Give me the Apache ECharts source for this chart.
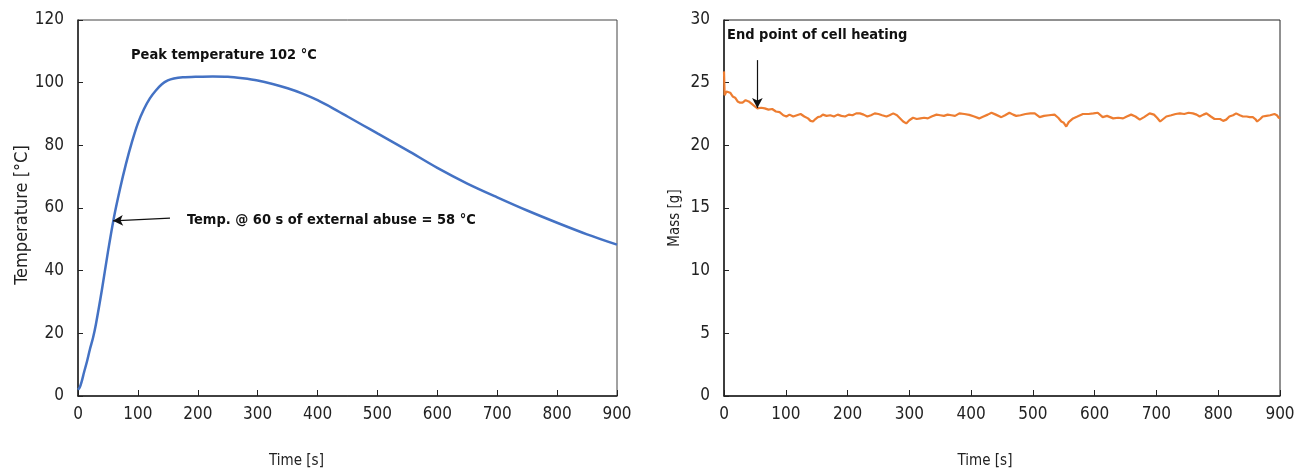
<!DOCTYPE html>
<html>
<head>
<meta charset="utf-8">
<script src="https://cdn.jsdelivr.net/npm/echarts@6/dist/echarts.min.js"></script>
<style>
  html,body{margin:0;padding:0;background:#fff;}
  #chart{width:1294px;height:468px;}
</style>
</head>
<body>
<div id="chart"></div>
<script>
// 温度曲线 (左图)
const tempTime  = [0, 3, 6, 10, 15, 20, 25, 30, 40, 50, 60, 70, 80, 90, 100, 110, 120, 130, 140, 150, 160, 175, 200, 225, 250, 275, 300, 325, 350, 375, 400, 425, 450, 475, 500, 550, 600, 650, 700, 750, 800, 850, 900];
const tempValue = [2, 2.8, 4.5, 7.5, 11, 15, 18.5, 23, 34, 46, 57, 66, 74, 81, 87, 91.5, 95, 97.5, 99.5, 100.7, 101.3, 101.7, 101.9, 102, 101.9, 101.4, 100.7, 99.6, 98.2, 96.5, 94.4, 91.9, 89.2, 86.5, 83.8, 78.4, 72.8, 67.8, 63.4, 59.2, 55.3, 51.6, 48.3];

// 质量曲线 (右图)
const massTime  = [0, 1, 4, 7, 10, 14, 18, 22, 26, 30, 35, 40, 45, 50, 54, 60, 66, 72, 78, 84, 90, 96, 101, 106, 112, 118, 124, 130, 136, 140, 144, 148, 152, 156, 160, 166, 172, 178, 184, 190, 196, 202, 208, 214, 220, 226, 232, 238, 244, 250, 256, 263, 268, 274, 280, 286, 290, 295, 300, 306, 312, 318, 324, 330, 336, 344, 350, 356, 362, 368, 374, 381, 389, 397, 405, 413, 420, 427, 433, 440, 449, 455, 462, 468, 473, 480, 488, 496, 503, 511, 518, 526, 535, 541, 546, 550, 554, 558, 565, 572, 581, 590, 598, 605, 613, 620, 630, 638, 646, 652, 659, 666, 673, 680, 689, 696, 701, 706, 711, 716, 724, 731, 738, 745, 752, 759, 765, 770, 776, 781, 788, 794, 797, 803, 808, 813, 818, 824, 829, 835, 840, 846, 851, 856, 860, 863, 868, 872, 878, 884, 891, 895, 898, 900];
const massValue = [25.9, 24.0, 24.3, 24.4, 24.2, 23.9, 23.8, 23.5, 23.4, 23.4, 23.6, 23.5, 23.3, 23.1, 22.95, 23.0, 22.95, 22.85, 22.9, 22.7, 22.65, 22.4, 22.3, 22.45, 22.3, 22.4, 22.5, 22.3, 22.15, 21.95, 21.9, 22.1, 22.25, 22.3, 22.45, 22.35, 22.4, 22.3, 22.45, 22.35, 22.3, 22.45, 22.4, 22.55, 22.55, 22.45, 22.3, 22.4, 22.55, 22.5, 22.4, 22.3, 22.4, 22.55, 22.4, 22.1, 21.9, 21.75, 22.0, 22.2, 22.1, 22.15, 22.2, 22.15, 22.3, 22.45, 22.4, 22.35, 22.45, 22.4, 22.35, 22.55, 22.5, 22.43, 22.3, 22.15, 22.3, 22.45, 22.6, 22.45, 22.25, 22.4, 22.6, 22.45, 22.35, 22.4, 22.5, 22.55, 22.55, 22.25, 22.35, 22.4, 22.45, 22.2, 21.9, 21.8, 21.5, 21.85, 22.15, 22.3, 22.5, 22.5, 22.55, 22.6, 22.25, 22.35, 22.15, 22.2, 22.15, 22.3, 22.45, 22.3, 22.05, 22.25, 22.55, 22.45, 22.2, 21.9, 22.1, 22.3, 22.4, 22.5, 22.55, 22.5, 22.6, 22.55, 22.45, 22.3, 22.45, 22.55, 22.3, 22.1, 22.0, 22.1, 21.95, 22.05, 22.3, 22.4, 22.55, 22.4, 22.3, 22.3, 22.25, 22.25, 22.1, 21.9, 22.1, 22.3, 22.35, 22.4, 22.5, 22.4, 22.2, 22.15];

const xTicks = [0, 100, 200, 300, 400, 500, 600, 700, 800, 900];

let font = "'DejaVu Sans Condensed', 'Liberation Sans Narrow', sans-serif";

function pairs(xs, ys){
    let out = [];
    for(let i=0;i<xs.length;i++){ out.push([xs[i], ys[i]]); }
    return out;
}

function xAxisCfg(idx, shift){
    return {
        gridIndex: idx,
        type: 'value',
        min: xTicks[0],
        max: xTicks[xTicks.length-1],
        interval: 100,
        name: 'Time [s]',
        nameLocation: 'middle',
        nameGap: 58,
        nameTextStyle: {fontFamily: font, fontSize: 15, color: '#222', padding: [0, shift, 0, 0]},
        axisLine: {lineStyle: {color: '#222', width: 1.5}},
        axisTick: {inside: true, length: 6, lineStyle: {color: '#222'}},
        axisLabel: {fontFamily: font, fontSize: 17, color: '#222', margin: 10},
        splitLine: {show: false}
    };
}

function yAxisCfg(idx, name, max, interval, size, gap, shift){
    return {
        gridIndex: idx,
        type: 'value',
        min: 0,
        max: max,
        interval: interval,
        name: name,
        nameLocation: 'middle',
        nameGap: gap,
        nameTextStyle: {fontFamily: font, fontSize: size, color: '#222', padding: [0, shift, 0, 0]},
        axisLine: {show: true, lineStyle: {color: '#222', width: 1.5}},
        axisTick: {show: true, inside: true, length: 5, lineStyle: {color: '#222'}},
        axisLabel: {fontFamily: font, fontSize: 17, color: '#222', margin: 14},
        splitLine: {show: false}
    };
}

let myChart = echarts.init(document.getElementById('chart'));
myChart.setOption({
    animation: false,
    grid: [
        {left: 78, top: 20, width: 539, height: 376, outerBoundsMode: 'none', containLabel: false, show: true, borderColor: '#444', borderWidth: 1},
        {left: 724, top: 20, width: 556, height: 376, outerBoundsMode: 'none', containLabel: false, show: true, borderColor: '#222', borderWidth: 1}
    ],
    xAxis: [xAxisCfg(0, 102), xAxisCfg(1, 34)],
    yAxis: [
        yAxisCfg(0, 'Temperature [°C]', 120, 20, 18, 47, 14),
        yAxisCfg(1, 'Mass [g]', 30, 5, 15, 41, 20)
    ],
    graphic: [
        {type: 'text', left: 131, top: 48, style: {text: 'Peak temperature 102 °C', font: 'bold 14.5px ' + font, fill: '#111'}},
        {type: 'text', left: 187, top: 213, style: {text: 'Temp. @ 60 s of external abuse = 58 °C', font: 'bold 14.5px ' + font, fill: '#111'}},
        {type: 'text', left: 727, top: 28, style: {text: 'End point of cell heating', font: 'bold 14.5px ' + font, fill: '#111'}}
    ],
    series: [
        {
            type: 'line',
            xAxisIndex: 0, yAxisIndex: 0,
            data: pairs(tempTime, tempValue),
            smooth: 0.3,
            showSymbol: false,
            clip: false,
            lineStyle: {color: '#4472C4', width: 2.5},
            markLine: {
                silent: true,
                animation: false,
                label: {show: false},
                data: [
                    // 峰值虚线
                    [{coord: [200, 102], symbol: 'none'}, {coord: [200, -4], symbol: 'none', lineStyle: {type: [4, 3], color: '#333', width: 1}}],
                    // 60 s 箭头
                    [{coord: [153.6, 56.8], symbol: 'none'}, {coord: [58.4, 55.9], symbol: 'arrow', symbolSize: [8, 10], lineStyle: {type: 'solid', color: '#111', width: 1.2}}]
                ]
            }
        },
        {
            type: 'line',
            xAxisIndex: 1, yAxisIndex: 1,
            data: pairs(massTime, massValue),
            showSymbol: false,
            clip: false,
            lineStyle: {color: '#ED7D31', width: 2.2},
            markLine: {
                silent: true,
                animation: false,
                label: {show: false},
                data: [
                    [{coord: [54, 26.8], symbol: 'none'}, {coord: [54, 22.98], symbol: 'arrow', symbolSize: [8, 10], lineStyle: {type: 'solid', color: '#111', width: 1.2}}]
                ]
            }
        }
    ]
});
</script>
</body>
</html>
